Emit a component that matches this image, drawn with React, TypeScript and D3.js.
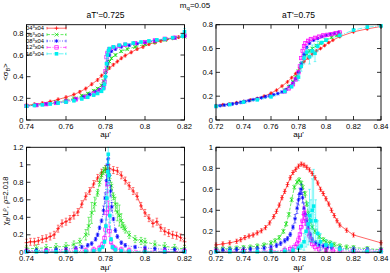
import React from 'react';
import * as d3 from 'd3';

type P = number[]; // [x, y, err?]

// ---------- aT'=0.725, <sigma_B> ----------
const tlRed: P[] = [[0.740,0.135],[0.744,0.145],[0.748,0.155],[0.752,0.17],[0.756,0.19],[0.760,0.21],[0.764,0.235],[0.767,0.26],[0.770,0.29],[0.773,0.33],[0.776,0.37],[0.778,0.41],[0.780,0.44],[0.782,0.48],[0.784,0.51],[0.786,0.54],[0.788,0.57],[0.790,0.595],[0.793,0.625],[0.796,0.655],[0.799,0.675],[0.802,0.70],[0.805,0.715],[0.808,0.73],[0.811,0.745],[0.814,0.755],[0.817,0.765],[0.820,0.775]];
const tlGreen: P[] = [[0.740,0.13],[0.745,0.14],[0.750,0.15],[0.755,0.165],[0.760,0.18],[0.764,0.20],[0.768,0.225],[0.771,0.245],[0.774,0.27],[0.776,0.29],[0.778,0.32],[0.779,0.36],[0.780,0.42,0.03],[0.781,0.49,0.03],[0.782,0.54],[0.783,0.57],[0.785,0.60],[0.788,0.635],[0.791,0.655],[0.795,0.675],[0.800,0.70],[0.805,0.72],[0.810,0.74],[0.815,0.755],[0.820,0.77]];
const tlBlue: P[] = [[0.740,0.13],[0.745,0.138],[0.750,0.148],[0.755,0.16],[0.760,0.175],[0.765,0.195],[0.769,0.215],[0.772,0.235],[0.775,0.26],[0.777,0.28],[0.779,0.32],[0.780,0.40,0.03],[0.781,0.52,0.03],[0.782,0.60],[0.783,0.635],[0.785,0.655],[0.788,0.675],[0.792,0.69],[0.796,0.705],[0.800,0.715],[0.805,0.73],[0.810,0.745],[0.815,0.76],[0.820,0.775]];
const tlMagenta: P[] = [[0.740,0.13],[0.745,0.137],[0.750,0.146],[0.755,0.157],[0.760,0.17],[0.765,0.19],[0.770,0.215],[0.774,0.245],[0.777,0.27],[0.779,0.30],[0.7795,0.35],[0.780,0.45,0.04],[0.7805,0.58,0.04],[0.781,0.62],[0.782,0.655],[0.784,0.67],[0.787,0.685],[0.790,0.695],[0.795,0.71],[0.800,0.72],[0.805,0.735],[0.810,0.75],[0.815,0.76],[0.820,0.78]];
const tlCyan: P[] = [[0.740,0.128],[0.744,0.134],[0.748,0.14],[0.752,0.148],[0.756,0.156],[0.760,0.165],[0.764,0.178],[0.768,0.195],[0.771,0.21],[0.774,0.23],[0.776,0.245],[0.778,0.265],[0.779,0.29],[0.7795,0.33],[0.780,0.40,0.04],[0.7805,0.52,0.05],[0.781,0.60,0.03],[0.7815,0.64],[0.782,0.66],[0.784,0.675],[0.787,0.69],[0.790,0.70],[0.794,0.71],[0.798,0.72],[0.802,0.73],[0.806,0.74],[0.810,0.75],[0.814,0.76],[0.819,0.775],[0.820,0.815,0.03]];

// ---------- aT'=0.75, <sigma_B> ----------
const trRed: P[] = [[0.720,0.12],[0.725,0.128],[0.730,0.135],[0.735,0.145],[0.740,0.155],[0.745,0.168],[0.750,0.18],[0.755,0.2],[0.760,0.225],[0.764,0.25],[0.768,0.285],[0.772,0.32],[0.775,0.355],[0.778,0.39],[0.781,0.44],[0.784,0.49],[0.787,0.52],[0.790,0.555],[0.793,0.58],[0.796,0.60],[0.799,0.625],[0.802,0.65],[0.805,0.67],[0.810,0.70],[0.820,0.74],[0.830,0.765],[0.840,0.785]];
const trGreen: P[] = [[0.770,0.25],[0.773,0.28],[0.776,0.32],[0.778,0.36],[0.780,0.41],[0.782,0.47],[0.784,0.52],[0.786,0.555],[0.788,0.58],[0.790,0.60],[0.793,0.625],[0.796,0.645],[0.800,0.67],[0.804,0.695],[0.808,0.71],[0.810,0.72]];
const trBlue: P[] = [[0.720,0.115],[0.723,0.12],[0.726,0.125],[0.729,0.13],[0.732,0.135],[0.735,0.14],[0.738,0.148],[0.741,0.155],[0.744,0.162],[0.747,0.17],[0.750,0.178],[0.753,0.186],[0.756,0.195],[0.759,0.203],[0.762,0.212],[0.765,0.222],[0.768,0.235],[0.771,0.255],[0.774,0.285],[0.776,0.31],[0.778,0.345],[0.780,0.40],[0.782,0.47],[0.784,0.55],[0.786,0.61],[0.788,0.645],[0.791,0.67],[0.794,0.685],[0.797,0.70],[0.800,0.71],[0.803,0.72],[0.806,0.725],[0.809,0.735]];
const trMagenta: P[] = [[0.770,0.24],[0.773,0.265],[0.776,0.30],[0.778,0.34],[0.780,0.40],[0.781,0.45],[0.782,0.52],[0.783,0.58],[0.784,0.62],[0.785,0.645],[0.787,0.665],[0.789,0.68],[0.792,0.69],[0.795,0.70],[0.798,0.71],[0.801,0.715],[0.804,0.72],[0.807,0.73],[0.810,0.735]];
const trCyan: P[] = [[0.720,0.115],[0.730,0.13],[0.740,0.15],[0.750,0.17],[0.760,0.195],[0.770,0.24],[0.775,0.28],[0.780,0.36,0.03],[0.782,0.45,0.04],[0.784,0.52,0.05],[0.786,0.57,0.04],[0.788,0.53,0.06],[0.790,0.58,0.05],[0.792,0.56,0.07],[0.794,0.62,0.04],[0.797,0.65],[0.800,0.67],[0.810,0.71],[0.820,0.755],[0.830,0.78],[0.840,0.79]];

// ---------- aT'=0.725, chi_B/L^rho ----------
const blRed: P[] = [[0.740,0.11],[0.742,0.12],[0.744,0.12],[0.746,0.13],[0.748,0.15],[0.750,0.16],[0.752,0.18],[0.754,0.20],[0.756,0.27],[0.758,0.33],[0.760,0.35],[0.762,0.38],[0.764,0.42],[0.766,0.46],[0.768,0.55],[0.770,0.64],[0.772,0.70],[0.774,0.78],[0.776,0.85],[0.778,0.91],[0.780,0.95],[0.782,0.96],[0.784,0.94],[0.786,0.93],[0.788,0.88],[0.790,0.82],[0.792,0.76],[0.794,0.70],[0.796,0.64],[0.798,0.53],[0.800,0.45],[0.802,0.39],[0.804,0.33],[0.806,0.35],[0.808,0.28],[0.810,0.24],[0.812,0.22],[0.814,0.20],[0.816,0.19],[0.818,0.17],[0.820,0.12]];
const blGreen: P[] = [[0.740,0.04],[0.745,0.045],[0.750,0.05],[0.755,0.06],[0.760,0.07],[0.764,0.09],[0.767,0.12],[0.770,0.20,0.06],[0.7715,0.30,0.1],[0.773,0.45,0.12],[0.7745,0.55,0.08],[0.776,0.68],[0.777,0.80],[0.778,0.88],[0.779,0.93],[0.780,0.95],[0.781,0.93],[0.782,0.86],[0.783,0.76],[0.784,0.64],[0.785,0.55,0.08],[0.786,0.46,0.1],[0.787,0.42,0.12],[0.788,0.36,0.08],[0.789,0.30],[0.790,0.26],[0.792,0.20],[0.795,0.15],[0.798,0.13],[0.800,0.12],[0.805,0.09],[0.810,0.07],[0.815,0.05],[0.820,0.04]];
const blBlue: P[] = [[0.740,0.02],[0.745,0.022],[0.750,0.025],[0.755,0.03],[0.760,0.035],[0.765,0.045],[0.768,0.06],[0.771,0.08],[0.773,0.10],[0.775,0.15],[0.776,0.20],[0.777,0.28],[0.778,0.36],[0.779,0.48,0.05],[0.7798,0.62,0.06],[0.7805,0.82,0.06],[0.781,1.0,0.06],[0.7814,1.07,0.06],[0.782,0.88,0.06],[0.7826,0.70,0.06],[0.7832,0.52,0.05],[0.784,0.38],[0.785,0.25],[0.786,0.18],[0.788,0.11],[0.790,0.08],[0.795,0.06],[0.800,0.05],[0.805,0.04],[0.810,0.035],[0.815,0.03],[0.820,0.025]];
const blMagenta: P[] = [[0.740,0.01],[0.750,0.012],[0.760,0.015],[0.765,0.018],[0.770,0.02],[0.774,0.03],[0.777,0.05],[0.7785,0.09],[0.7795,0.16],[0.780,0.26,0.06],[0.7805,0.45,0.08],[0.781,0.78,0.1],[0.7815,0.50,0.08],[0.782,0.24,0.06],[0.7828,0.12],[0.7838,0.06],[0.785,0.04],[0.788,0.03],[0.792,0.02],[0.800,0.015],[0.810,0.01],[0.820,0.01]];
const blCyan: P[] = [[0.740,0.005],[0.745,0.005],[0.750,0.006],[0.755,0.006],[0.760,0.007],[0.765,0.008],[0.770,0.01],[0.774,0.015],[0.777,0.03],[0.7785,0.06],[0.7795,0.12],[0.7802,0.30,0.08],[0.7807,0.62,0.1],[0.7811,0.92,0.1],[0.7814,1.12,0.1],[0.7817,0.88,0.1],[0.7822,0.42,0.08],[0.7828,0.15],[0.7835,0.06],[0.785,0.03],[0.788,0.015],[0.792,0.01],[0.800,0.008],[0.810,0.006],[0.820,0.005]];

// ---------- aT'=0.75, chi_B/L^rho ----------
const brRed: P[] = [[0.720,0.07],[0.725,0.08],[0.730,0.09],[0.735,0.105],[0.738,0.12],[0.741,0.14],[0.744,0.155],[0.747,0.165],[0.750,0.185],[0.753,0.205],[0.756,0.235],[0.759,0.28],[0.762,0.34],[0.764,0.39],[0.766,0.45],[0.768,0.52],[0.770,0.58],[0.772,0.645],[0.774,0.71],[0.776,0.76],[0.778,0.79],[0.780,0.82],[0.782,0.84],[0.784,0.83],[0.786,0.81],[0.788,0.785],[0.790,0.75],[0.792,0.71],[0.794,0.66],[0.796,0.60],[0.798,0.56],[0.800,0.51],[0.802,0.46],[0.804,0.40],[0.806,0.35],[0.808,0.30],[0.810,0.26],[0.815,0.21],[0.820,0.165],[0.840,0.09]];
const brGreen: P[] = [[0.720,0.03],[0.725,0.032],[0.730,0.035],[0.735,0.04],[0.740,0.045],[0.745,0.05],[0.750,0.06],[0.755,0.07],[0.760,0.09],[0.763,0.11],[0.766,0.14],[0.769,0.20],[0.771,0.27],[0.773,0.36],[0.775,0.50],[0.777,0.62],[0.779,0.67],[0.7805,0.69],[0.782,0.66],[0.783,0.62],[0.7847,0.56],[0.786,0.46],[0.7872,0.37],[0.7885,0.30],[0.790,0.24],[0.792,0.20],[0.795,0.15],[0.798,0.12],[0.800,0.10],[0.803,0.09],[0.806,0.075],[0.810,0.06],[0.815,0.05],[0.820,0.045],[0.830,0.035],[0.840,0.025]];
const brBlue: P[] = [[0.720,0.02],[0.725,0.022],[0.730,0.024],[0.735,0.026],[0.740,0.028],[0.745,0.03],[0.750,0.035],[0.755,0.04],[0.760,0.05],[0.764,0.065],[0.767,0.085],[0.770,0.11],[0.772,0.13],[0.774,0.17],[0.776,0.24],[0.7775,0.32,0.04],[0.779,0.42,0.05],[0.780,0.50,0.05],[0.781,0.56,0.05],[0.782,0.60,0.05],[0.783,0.52,0.05],[0.784,0.42,0.05],[0.785,0.36],[0.786,0.30],[0.787,0.24],[0.7885,0.17],[0.790,0.12],[0.7925,0.09],[0.795,0.07],[0.798,0.06],[0.801,0.05],[0.804,0.045],[0.810,0.035],[0.820,0.03],[0.830,0.025],[0.840,0.02]];
const brMagenta: P[] = [[0.720,0.01],[0.740,0.01],[0.760,0.012],[0.770,0.02],[0.774,0.03],[0.777,0.05],[0.779,0.08],[0.780,0.12],[0.781,0.17,0.05],[0.782,0.24,0.06],[0.783,0.30,0.06],[0.784,0.37,0.07],[0.785,0.33,0.07],[0.786,0.27,0.06],[0.787,0.21,0.05],[0.788,0.16],[0.789,0.12],[0.790,0.08],[0.792,0.05],[0.795,0.03],[0.800,0.02],[0.805,0.015],[0.810,0.015],[0.820,0.01],[0.830,0.01],[0.840,0.01]];
const brCyan: P[] = [[0.720,0.005],[0.730,0.005],[0.740,0.005],[0.750,0.005],[0.760,0.006],[0.770,0.01],[0.776,0.02],[0.780,0.04],[0.782,0.06],[0.784,0.10,0.08],[0.7855,0.20,0.15],[0.787,0.27,0.2],[0.788,0.35,0.25],[0.789,0.30,0.2],[0.790,0.40,0.3],[0.791,0.44,0.35],[0.7925,0.30,0.2],[0.794,0.18,0.12],[0.796,0.10,0.08],[0.800,0.07,0.05],[0.804,0.07],[0.810,0.03],[0.820,0.01],[0.830,0.01],[0.840,0.005]];

// default error per series (columns: 04,06,08,12,16)
const tlErr = [0.012, 0.01, 0.008, 0.01, 0.01];
const trErr = [0.008, 0.01, 0.006, 0.01, 0.01];
const blErr = [0.04, 0.04, 0.02, 0.03, 0.02];
const brErr = [0.02, 0.02, 0.02, 0.03, 0.03];

const seriesNames = ['04', '06', '08', '12', '16'];
const seriesColors = ['#ff0000', '#00dd00', '#0000ff', '#ff00ff', '#00eeee'];
const seriesDash = ['none', '3,1.5', '1,1.5', '4,1.5,1,1.5', '5,1.5,1,1.5,1,1.5'];
const seriesShape = ['plus', 'cross', 'star', 'square', 'fsquare'];

const xTicksA = [0.74, 0.76, 0.78, 0.80, 0.82];
const xTicksB = [0.72, 0.74, 0.76, 0.78, 0.80, 0.82, 0.84];
const yTicksSigma = [0, 0.2, 0.4, 0.6, 0.8];
const yTicksChiA = [0, 0.2, 0.4, 0.6, 0.8, 1.0, 1.2];
const yTicksChiB = [0, 0.2, 0.4, 0.6, 0.8, 1.0];

const FONT = 'Liberation Sans, Arial, Helvetica, sans-serif';
const fmt = (v: number) => String(+v.toFixed(2));

type Box = { l: number; r: number; t: number; b: number };

function Marker({ shape, cx, cy, color }: { shape: string; cx: number; cy: number; color: string }) {
  const s = 1.9;
  if (shape === 'plus')
    return <path d={`M${cx - s},${cy}H${cx + s}M${cx},${cy - s}V${cy + s}`} stroke={color} strokeWidth={0.7} fill="none" />;
  if (shape === 'cross')
    return <path d={`M${cx - s},${cy - s}L${cx + s},${cy + s}M${cx - s},${cy + s}L${cx + s},${cy - s}`} stroke={color} strokeWidth={0.7} fill="none" />;
  if (shape === 'star')
    return <path d={`M${cx - s},${cy}H${cx + s}M${cx},${cy - s}V${cy + s}M${cx - s * 0.75},${cy - s * 0.75}L${cx + s * 0.75},${cy + s * 0.75}M${cx - s * 0.75},${cy + s * 0.75}L${cx + s * 0.75},${cy - s * 0.75}`} stroke={color} strokeWidth={0.7} fill="none" />;
  if (shape === 'square')
    return <rect x={cx - 1.7} y={cy - 1.7} width={3.4} height={3.4} stroke={color} strokeWidth={0.7} fill="none" />;
  return <rect x={cx - 1.8} y={cy - 1.8} width={3.6} height={3.6} fill={color} stroke="none" />;
}

function Panel({ box, xDomain, yDomain, xTicks, yTicks, series, errs, legend }: {
  box: Box; xDomain: number[]; yDomain: number[]; xTicks: number[]; yTicks: number[];
  series: P[][]; errs: number[]; legend?: boolean;
}) {
  const x = d3.scaleLinear().domain(xDomain).range([box.l, box.r]);
  const y = d3.scaleLinear().domain(yDomain).range([box.b, box.t]);
  const line = d3.line<P>().x(d => x(d[0])).y(d => y(d[1]));
  const tl = 4;
  return (
    <g>
      {series.map((data, i) => {
        const c = seriesColors[i];
        return (
          <g key={i}>
            <path d={line(data) || ''} fill="none" stroke={c} strokeWidth={0.6} strokeDasharray={seriesDash[i]} />
            {data.map((d, j) => {
              const e = d.length > 2 ? d[2] : errs[i];
              const px = x(d[0]);
              const y0 = y(Math.max(d[1] - e, yDomain[0]));
              const y1 = y(Math.min(d[1] + e, yDomain[1]));
              return (
                <path key={j} d={`M${px},${y0}V${y1}M${px - 1.3},${y0}H${px + 1.3}M${px - 1.3},${y1}H${px + 1.3}`} stroke={c} strokeWidth={0.5} fill="none" />
              );
            })}
            {data.map((d, j) => (
              <Marker key={'m' + j} shape={seriesShape[i]} cx={x(d[0])} cy={y(d[1])} color={c} />
            ))}
          </g>
        );
      })}
      <rect x={box.l} y={box.t} width={box.r - box.l} height={box.b - box.t} fill="none" stroke="#000" strokeWidth={0.9} />
      {xTicks.map(t => (
        <g key={'x' + t}>
          <line x1={x(t)} x2={x(t)} y1={box.b} y2={box.b - tl} stroke="#000" strokeWidth={0.8} />
          <line x1={x(t)} x2={x(t)} y1={box.t} y2={box.t + tl} stroke="#000" strokeWidth={0.8} />
          <text x={x(t)} y={box.b + 8.8} fontSize={7.6} fontFamily={FONT} textAnchor="middle">{fmt(t)}</text>
        </g>
      ))}
      {yTicks.map(t => (
        <g key={'y' + t}>
          <line x1={box.l} x2={box.l + tl} y1={y(t)} y2={y(t)} stroke="#000" strokeWidth={0.8} />
          <line x1={box.r} x2={box.r - tl} y1={y(t)} y2={y(t)} stroke="#000" strokeWidth={0.8} />
          <text x={box.l - 3} y={y(t) + 2.5} fontSize={7.6} fontFamily={FONT} textAnchor="end">{fmt(t)}</text>
        </g>
      ))}
      {legend && seriesNames.map((n, i) => {
        const ly = box.t + 3.5 + i * 6.4;
        const c = seriesColors[i];
        return (
          <g key={'lg' + i}>
            <text x={44} y={ly + 2} fontSize={5.8} fontFamily={FONT} textAnchor="end">
              {n}<tspan dy={-2} fontSize={4}>3</tspan><tspan dy={2}>x04</tspan>
            </text>
            <path d={`M47,${ly}H66`} stroke={c} strokeWidth={0.6} strokeDasharray={seriesDash[i]} fill="none" />
            <path d={`M47,${ly - 1.3}V${ly + 1.3}M66,${ly - 1.3}V${ly + 1.3}`} stroke={c} strokeWidth={0.6} fill="none" />
            <Marker shape={seriesShape[i]} cx={56.5} cy={ly} color={c} />
          </g>
        );
      })}
    </g>
  );
}

export default function App() {
  const boxTL: Box = { l: 26.5, r: 184.5, t: 24.7, b: 120 };
  const boxTR: Box = { l: 216, r: 381, t: 24.7, b: 120 };
  const boxBL: Box = { l: 26.5, r: 184.5, t: 147.3, b: 252.3 };
  const boxBR: Box = { l: 216, r: 381, t: 147.3, b: 252.3 };
  const cL = (boxTL.l + boxTL.r) / 2;
  const cR = (boxTR.l + boxTR.r) / 2;
  return (
    <svg width={390} height={273} style={{ position: 'absolute', left: 0, top: 0, background: '#fff' }} fontFamily={FONT}>
      <rect width={390} height={273} fill="#fff" />
      <Panel box={boxTL} xDomain={[0.74, 0.82]} yDomain={[0, 0.88]} xTicks={xTicksA} yTicks={yTicksSigma}
        series={[tlRed, tlGreen, tlBlue, tlMagenta, tlCyan]} errs={tlErr} legend />
      <Panel box={boxTR} xDomain={[0.72, 0.84]} yDomain={[0, 0.8]} xTicks={xTicksB} yTicks={yTicksSigma}
        series={[trRed, trGreen, trBlue, trMagenta, trCyan]} errs={trErr} />
      <Panel box={boxBL} xDomain={[0.74, 0.82]} yDomain={[0, 1.2]} xTicks={xTicksA} yTicks={yTicksChiA}
        series={[blRed, blGreen, blBlue, blMagenta, blCyan]} errs={blErr} />
      <Panel box={boxBR} xDomain={[0.72, 0.84]} yDomain={[0, 1.0]} xTicks={xTicksB} yTicks={yTicksChiB}
        series={[brRed, brGreen, brBlue, brMagenta, brCyan]} errs={brErr} />

      <text x={195} y={8} fontSize={8} textAnchor="middle">m<tspan dy={2} fontSize={6}>q</tspan><tspan dy={-2}>=0.05</tspan></text>
      <text x={cL} y={18} fontSize={8.5} textAnchor="middle">aT'=0.725</text>
      <text x={cR} y={18} fontSize={8.5} textAnchor="middle">aT'=0.75</text>

      <text x={cL} y={136.5} fontSize={8} textAnchor="middle">aμ'</text>
      <text x={cR} y={136.5} fontSize={8} textAnchor="middle">aμ'</text>
      <text x={cL} y={270} fontSize={8} textAnchor="middle">aμ'</text>
      <text x={cR} y={270} fontSize={8} textAnchor="middle">aμ'</text>

      <text transform="translate(8,72) rotate(-90)" fontSize={7.5} textAnchor="middle">
        {'<σ'}<tspan dy={1.8} fontSize={5.5}>B</tspan><tspan dy={-1.8}>{'>'}</tspan>
      </text>
      <text transform="translate(8,201) rotate(-90)" fontSize={7.5} textAnchor="middle">
        χ<tspan dy={1.8} fontSize={5.5}>B</tspan><tspan dy={-1.8}>/L</tspan><tspan dy={-2.5} fontSize={5.5}>ρ</tspan><tspan dy={2.5}>, ρ=2.018</tspan>
      </text>
    </svg>
  );
}
